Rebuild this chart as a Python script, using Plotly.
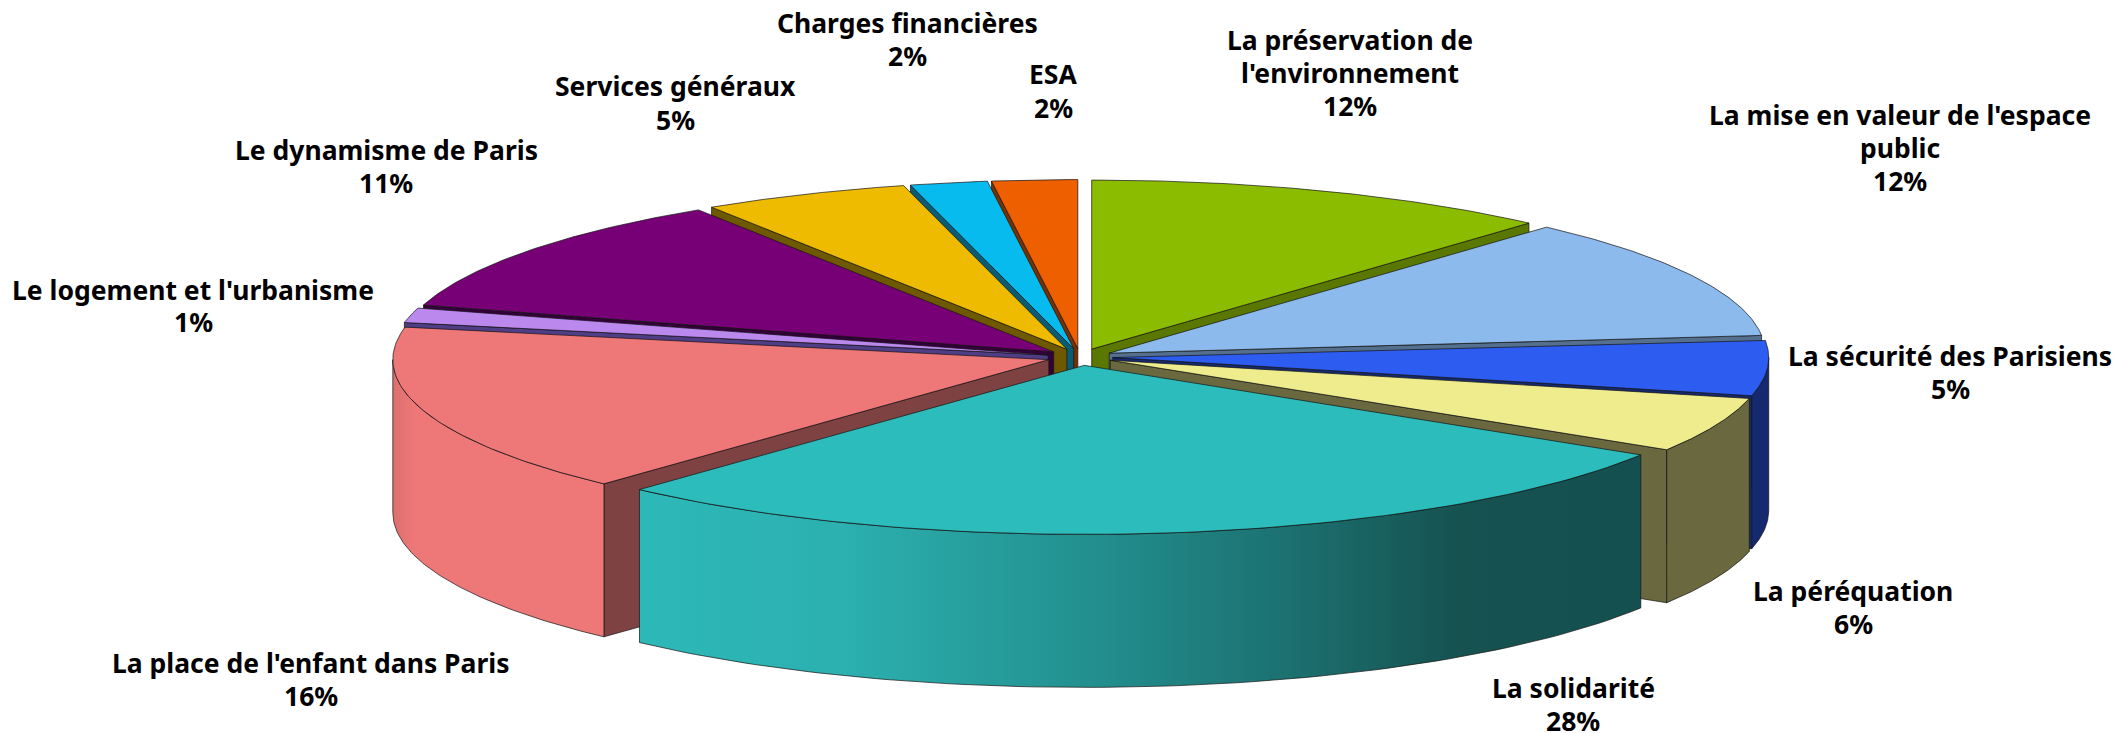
import numpy as np
import plotly.graph_objects as go

# ---- data -------------------------------------------------------------
categories = [["La préservation de", "l'environnement"],
              ["La mise en valeur de l'espace", "public"],
              ["La sécurité des Parisiens"],
              ["La péréquation"],
              ["La solidarité"],
              ["La place de l'enfant dans Paris"],
              ["Le logement et l'urbanisme"],
              ["Le dynamisme de Paris"],
              ["Services généraux"],
              ["Charges financières"],
              ["ESA"]]
values = [11.6, 11.7, 5.3, 5.25, 27.95, 16.2, 1.4, 11.4, 5.1, 1.9, 2.1]
percent_labels = ["12%", "12%", "5%", "6%", "28%", "16%", "1%", "11%", "5%", "2%", "2%"]

# ---- styles ------------------------------------------------------------
top_colors = ["#8cbc00", "#8cbaec", "#2d5cf0", "#eeec8c", "#2dbcbc", "#ee7777",
              "#bb88ee", "#770077", "#eebb00", "#08bbee", "#ee5f00"]
cut_colors = ["#5a7800", "#55708f", "#16296e", "#69683e", "#145050", "#7f4242",
              "#4f3d85", "#33003a", "#6e5900", "#0a5c74", "#7a3000"]
rim_scales = {
    2: [[0, "#16296e"], [1, "#16296e"]],
    3: [[0, "#69683e"], [1, "#69683e"]],
    4: [[0, "#2db8b8"], [0.2, "#2cb0b0"], [0.45, "#22908f"], [0.65, "#1c7070"],
        [0.82, "#155250"], [1, "#145050"]],
    5: [[0, "#dc7070"], [0.1, "#ee7777"], [1, "#ee7777"]],
}
W, H = 2117, 733
CX, CY, RX, RY = 1080, 357, 656, 169     # pie centre and semi-axes on the page
DEPTH = 153 / RY                         # wall height in pie units
PULL = 0.05
EDGE = "rgba(20,20,20,0.7)"
LINE_STEP = 33
label_xy = [(1350, 73), (1900, 148), (1950, 372), (1853, 607), (1573, 704),
            (311, 679), (193, 306), (386, 167), (675, 103), (907, 40), (1053, 91)]

# ---- geometry from the values -------------------------------------------
total = sum(values)
ends = np.cumsum(values) / total * 360
starts = np.concatenate([[0], ends[:-1]])
mids = (starts + ends) / 2
order = np.argsort(-np.cos(np.radians(mids)))


def point(angle, ox, oy, drop=0.0):
    a = np.radians(angle)
    return ox + np.sin(a), oy - np.cos(a) + drop


fig = go.Figure()


def poly(xs, ys, color=None, scale=None, edge=EDGE):
    kw = dict(fillcolor=color) if scale is None else dict(
        fillgradient=dict(type="horizontal", colorscale=scale))
    fig.add_trace(go.Scatter(x=list(xs), y=list(ys), mode="lines", fill="toself",
                             line=dict(color=edge, width=1), hoverinfo="skip",
                             showlegend=False, **kw))


for i in order:
    s, e = starts[i], ends[i]
    m = np.radians(mids[i])
    ox, oy = PULL * np.sin(m), -PULL * np.cos(m)
    # radial cut walls that face the viewer
    for ang, visible in ((s, np.sin(np.radians(s)) < -1e-6), (e, np.sin(np.radians(e)) > 1e-6)):
        if visible:
            px, py = point(ang, ox, oy)
            poly([ox, px, px, ox, ox], [oy, py, py + DEPTH, oy + DEPTH, oy], cut_colors[i])
    # outer rim wall (front half only)
    lo, hi = max(s, 90), min(e, 270)
    if hi > lo:
        arc = np.linspace(lo, hi, 80)
        ax, ay = point(arc, ox, oy)
        xs = np.concatenate([ax, ax[::-1], ax[:1]])
        ys = np.concatenate([ay, ay[::-1] + DEPTH, ay[:1]])
        poly(xs, ys, scale=rim_scales.get(i, [[0, cut_colors[i]], [1, cut_colors[i]]]))
    # top face
    arc = np.linspace(s, e, 80)
    ax, ay = point(arc, ox, oy)
    poly(np.concatenate([[ox], ax, [ox]]), np.concatenate([[oy], ay, [oy]]), top_colors[i])

for (lx, ly), name, pct in zip(label_xy, categories, percent_labels):
    lines = name + [pct]
    for k, line in enumerate(lines):
        yy = ly + (k - (len(lines) - 1) / 2) * LINE_STEP
        fig.add_annotation(x=lx / W, y=1 - yy / H, xref="paper", yref="paper",
                           text=f"<b>{line}</b>", showarrow=False,
                           align="center", xanchor="center", yanchor="middle",
                           font=dict(family="Noto Sans", size=26.5, color="#000000"))

fig.update_layout(
    width=W, height=H, margin=dict(l=0, r=0, t=0, b=0),
    paper_bgcolor="white", plot_bgcolor="white", showlegend=False,
    xaxis=dict(range=[-CX / RX, (W - CX) / RX], visible=False, fixedrange=True),
    yaxis=dict(range=[(H - CY) / RY, -CY / RY], visible=False, fixedrange=True),
)
fig.write_html("out.html", post_script="document.body.style.margin='0';",
               config=dict(displayModeBar=False))
